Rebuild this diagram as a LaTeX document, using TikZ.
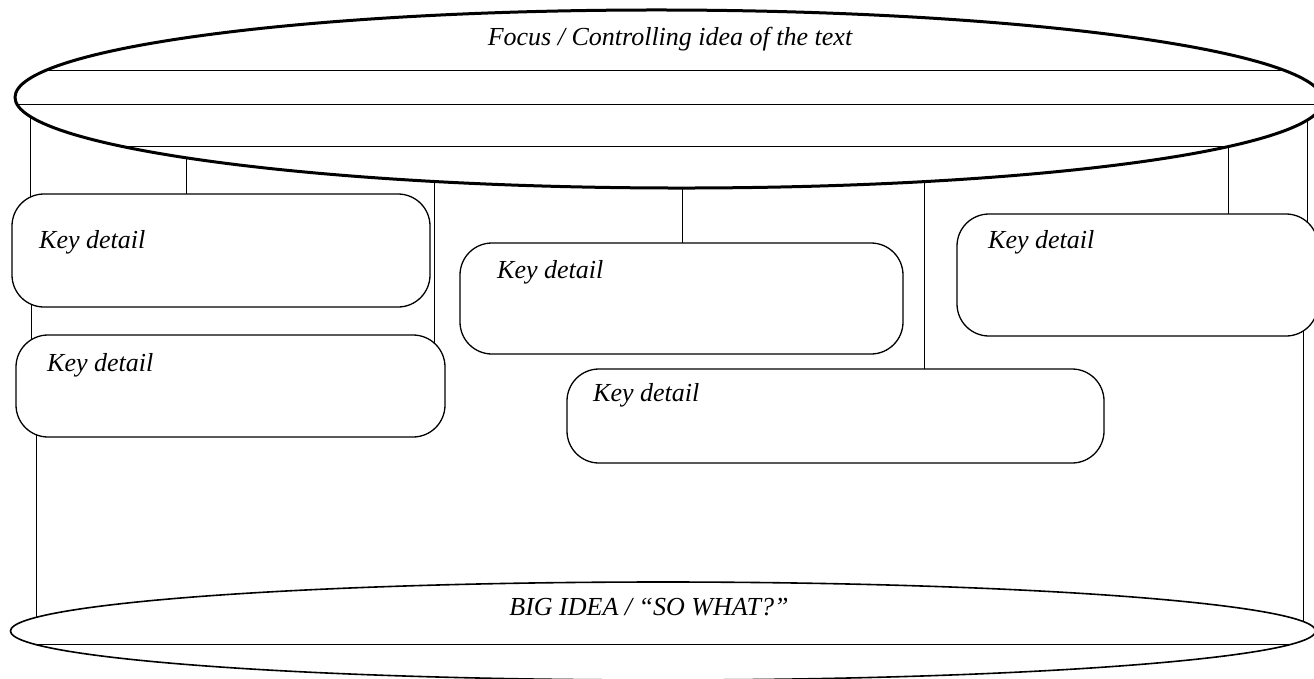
\documentclass[tikz,border=0pt]{standalone}
\usepackage{fontspec}
\setmainfont{Liberation Serif}
\usetikzlibrary{shapes.geometric}
\pgfdeclarelayer{background}
\pgfsetlayers{background,main}

\tikzstyle{detail} = [draw, fill=white, rectangle, rounded corners=32pt, line width=1.3pt, anchor=north west, inner sep=0pt, outer sep=0pt]
\tikzstyle{bubble} = [draw, fill=white, ellipse, inner sep=0pt, outer sep=0pt]
\tikzstyle{keytext} = [font=\fontsize{26}{31}\selectfont\itshape, inner sep=0pt]
\tikzstyle{writeline} = [line width=1pt]
\tikzstyle{link} = [line width=1pt]

\begin{document}
\begin{tikzpicture}[x=1pt,y=-1pt]
            \useasboundingbox (0,0) rectangle (1314,678);
            %
            % The two ovals, top and bottom
            \node [bubble, line width=3pt, minimum width=1308pt, minimum height=178pt, rotate=-0.15] (focus) at (669,99) {};
            \node [bubble, line width=1.6pt, minimum width=1305pt, minimum height=98pt] (bigidea) at (663,631) {};
            % Lines to write on, kept inside the ovals
            \begin{scope}
                \clip [rotate around={-0.15:(669,99)}] (669,99) ellipse [x radius=654, y radius=89];
                \draw [writeline] (0,70) -- (1314,70);
                \draw [writeline] (0,104) -- (1314,104);
                \draw [writeline] (0,146) -- (1314,146);
            \end{scope}
            \begin{scope}
                \clip (663,631) ellipse [x radius=652.5, y radius=49];
                \draw [writeline] (0,644) -- (1314,644);
            \end{scope}
            \node [keytext, anchor=base] (focustext) at (670,45) {Focus / Controlling idea of the text};
            \node [keytext, anchor=base] (bigtext) at (649,615) {BIG IDEA / “SO WHAT?”};
            %
            % Then the key detail boxes
            \node [detail, minimum width=418pt, minimum height=113pt] (k1) at (12,194) {};
            \node [detail, minimum width=429pt, minimum height=102pt] (k2) at (16,335) {};
            \node [detail, minimum width=443pt, minimum height=111pt] (k3) at (460,243) {};
            \node [detail, minimum width=361pt, minimum height=122pt] (k4) at (957,214) {};
            \node [detail, minimum width=537pt, minimum height=94pt] (k5) at (567,369) {};
            \node [keytext, anchor=base west] (k1text) at ([shift={(27,54)}]k1.north west) {Key detail};
            \node [keytext, anchor=base west] (k2text) at ([shift={(31,36)}]k2.north west) {Key detail};
            \node [keytext, anchor=base west] (k3text) at ([shift={(37,35)}]k3.north west) {Key detail};
            \node [keytext, anchor=base west] (k4text) at ([shift={(31,34)}]k4.north west) {Key detail};
            \node [keytext, anchor=base west] (k5text) at ([shift={(26,32)}]k5.north west) {Key detail};
            %
            % Connectors go behind the ovals and boxes
            \begin{pgfonlayer}{background}
                \coordinate (a1) at (30,110);
                \coordinate (a2) at (186,99);
                \coordinate (a3) at (434,99);
                \coordinate (a4) at (682,99);
                \coordinate (a5) at (924,99);
                \coordinate (a6) at (1228,99);
                \coordinate (a7) at (1307,99);
                \coordinate (b1) at (31,0);
                \coordinate (b2) at (36,0);
                \coordinate (b3) at (1303,0);
                \draw [link] (a1) -- (a1 |- k1.center);
                \draw [link] (a2) -- (a2 |- k1.center);
                \draw [link] (a3) -- (a3 |- k2.center);
                \draw [link] (a4) -- (a4 |- k3.center);
                \draw [link] (a5) -- (a5 |- k5.center);
                \draw [link] (a6) -- (a6 |- k4.center);
                \draw [link] (a7) -- (a7 |- k4.center);
                \draw [link] (b1 |- k1.center) -- (b1 |- k2.center);
                \draw [link] (b2 |- k2.center) -- (b2 |- bigidea.center);
                \draw [link] (b3 |- k4.center) -- (b3 |- bigidea.center);
            \end{pgfonlayer}
            %
\end{tikzpicture}
\end{document}
